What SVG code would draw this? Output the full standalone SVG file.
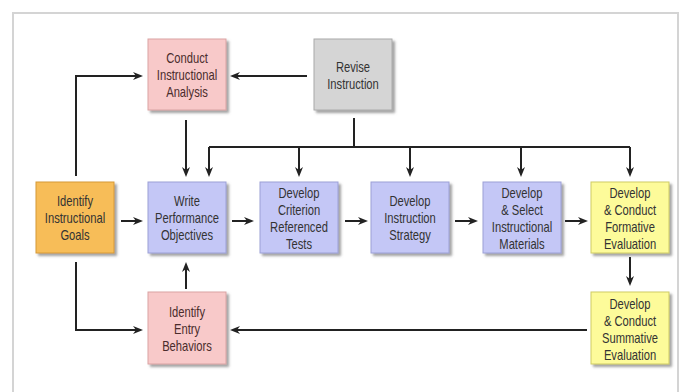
<svg xmlns="http://www.w3.org/2000/svg" width="692" height="392" viewBox="0 0 692 392">
<style>
.box{stroke-width:1;filter:url(#sh)}
.pink{fill:#f8c9c9;stroke:#d9a3a3}
.gray{fill:#d5d5d5;stroke:#aaaaaa}
.orange{fill:#f7bd58;stroke:#d69a36}
.blue{fill:#c4c7f6;stroke:#9ca0d6}
.yellow{fill:#fdfb9a;stroke:#cfcb64}
.t{font-family:"Liberation Sans",Arial,sans-serif;font-size:14px;fill:#333;text-anchor:middle}
.tp{fill:#4a2c2c}
.c{fill:none;stroke:#222;stroke-width:2}
.ca{fill:none;stroke:#222;stroke-width:2;marker-end:url(#ah)}
</style>
<defs>
<filter id="sh" x="-10%" y="-10%" width="130%" height="130%">
<feDropShadow dx="2.5" dy="2.5" stdDeviation="1.2" flood-color="#555" flood-opacity="0.55"/>
</filter>
<marker id="ah" viewBox="0 0 10 10" markerWidth="10" markerHeight="10" refX="3" refY="5" orient="auto" markerUnits="userSpaceOnUse">
<path d="M0,1 L10,5 L0,9 L3,5 z" fill="#222"/>
</marker>
</defs>
<rect x="0" y="0" width="692" height="392" fill="#fff"/>
<rect x="13" y="13" width="665" height="392" fill="none" stroke="#d4d4d4" stroke-width="2"/>

<g id="connectors">
<path class="ca" d="M76,176 V76 H136"/>
<path class="ca" d="M307,76 H237"/>
<path class="ca" d="M186,120 V170"/>
<path class="c" d="M354,118 V147"/>
<path class="c" d="M209,147 H630"/>
<path class="ca" d="M209,147 V170"/>
<path class="ca" d="M299,147 V170"/>
<path class="ca" d="M410,147 V170"/>
<path class="ca" d="M521,147 V170"/>
<path class="ca" d="M630,147 V170"/>
<path class="ca" d="M121,221 H136"/>
<path class="ca" d="M232,221 H247"/>
<path class="ca" d="M345,221 H361"/>
<path class="ca" d="M455,221 H471"/>
<path class="ca" d="M565,221 H581"/>
<path class="ca" d="M630,257 V279"/>
<path class="ca" d="M186,289 V269"/>
<path class="ca" d="M76,262 V330 H136"/>
<path class="ca" d="M587,330 H237"/>
</g>

<g id="conduct">
<rect class="box pink" x="148" y="39" width="78" height="71"/>
<g transform="translate(187,0) scale(0.8,1)"><text class="t tp" x="0" y="63">Conduct</text><text class="t tp" x="0" y="80">Instructional</text><text class="t tp" x="0" y="97">Analysis</text></g>
</g>
<g id="revise">
<rect class="box gray" x="314" y="39" width="78" height="71"/>
<g transform="translate(353,0) scale(0.8,1)"><text class="t" x="0" y="72">Revise</text><text class="t" x="0" y="89">Instruction</text></g>
</g>
<g id="goals">
<rect class="box orange" x="36" y="182" width="78" height="71"/>
<g transform="translate(75,0) scale(0.8,1)"><text class="t" x="0" y="206">Identify</text><text class="t" x="0" y="223">Instructional</text><text class="t" x="0" y="240">Goals</text></g>
</g>
<g id="write">
<rect class="box blue" x="148" y="182" width="78" height="71"/>
<g transform="translate(187,0) scale(0.8,1)"><text class="t" x="0" y="206">Write</text><text class="t" x="0" y="223">Performance</text><text class="t" x="0" y="240">Objectives</text></g>
</g>
<g id="criterion">
<rect class="box blue" x="260" y="182" width="78" height="71"/>
<g transform="translate(299,0) scale(0.8,1)"><text class="t" x="0" y="198">Develop</text><text class="t" x="0" y="215">Criterion</text><text class="t" x="0" y="232">Referenced</text><text class="t" x="0" y="249">Tests</text></g>
</g>
<g id="strategy">
<rect class="box blue" x="371" y="182" width="78" height="71"/>
<g transform="translate(410,0) scale(0.8,1)"><text class="t" x="0" y="206">Develop</text><text class="t" x="0" y="223">Instruction</text><text class="t" x="0" y="240">Strategy</text></g>
</g>
<g id="materials">
<rect class="box blue" x="483" y="182" width="78" height="71"/>
<g transform="translate(522,0) scale(0.8,1)"><text class="t" x="0" y="198">Develop</text><text class="t" x="0" y="215">&amp; Select</text><text class="t" x="0" y="232">Instructional</text><text class="t" x="0" y="249">Materials</text></g>
</g>
<g id="formative">
<rect class="box yellow" x="591" y="182" width="78" height="71"/>
<g transform="translate(630,0) scale(0.8,1)"><text class="t" x="0" y="198">Develop</text><text class="t" x="0" y="215">&amp; Conduct</text><text class="t" x="0" y="232">Formative</text><text class="t" x="0" y="249">Evaluation</text></g>
</g>
<g id="summative">
<rect class="box yellow" x="591" y="292" width="78" height="72"/>
<g transform="translate(630,0) scale(0.8,1)"><text class="t" x="0" y="309">Develop</text><text class="t" x="0" y="326">&amp; Conduct</text><text class="t" x="0" y="343">Summative</text><text class="t" x="0" y="360">Evaluation</text></g>
</g>
<g id="entry">
<rect class="box pink" x="148" y="292" width="78" height="72"/>
<g transform="translate(187,0) scale(0.8,1)"><text class="t tp" x="0" y="317">Identify</text><text class="t tp" x="0" y="334">Entry</text><text class="t tp" x="0" y="351">Behaviors</text></g>
</g>
</svg>
